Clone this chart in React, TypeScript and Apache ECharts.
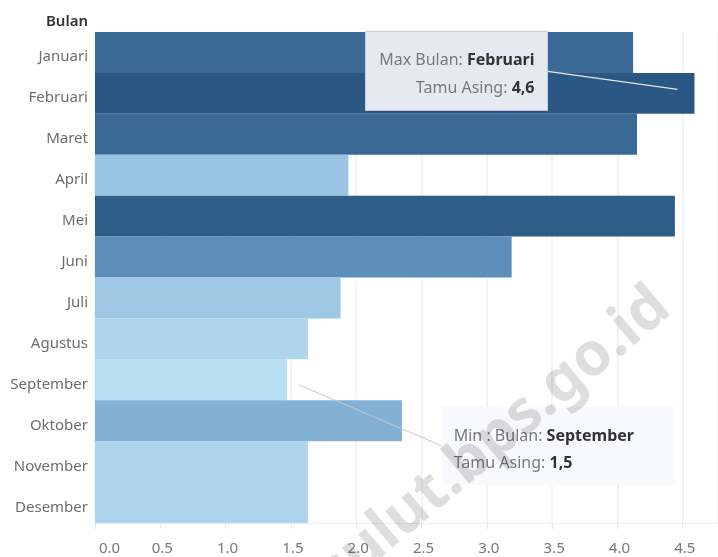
import React, { useEffect, useRef } from "react";
import * as echarts from "echarts";

const categories = [
  "Januari", "Februari", "Maret", "April", "Mei", "Juni",
  "Juli", "Agustus", "September", "Oktober", "November", "Desember",
];
const values = [4.12, 4.59, 4.15, 1.94, 4.44, 3.19, 1.88, 1.63, 1.47, 2.35, 1.63, 1.63];
const colorStops = ["#b9ddf1", "#86b5d8", "#6394bf", "#4677a5", "#2a5783"];
const axisMin = 0;
const axisMax = 4.77;
const axisInterval = 0.5;
const axisTitle = "Bulan";
const valueName = "Tamu Asing";
const watermark = "sulut.bps.go.id";

const FONT = "'Noto Sans', sans-serif";

const fmt = (v: number) => v.toFixed(1).replace(".", ",");

export default function App() {
  const ref = useRef<HTMLDivElement>(null);
  useEffect(() => {
    if (!ref.current) return;
    const chart = echarts.init(ref.current, null, { renderer: "svg" });
    const minV = Math.min(...values);
    const maxV = Math.max(...values);
    const maxIdx = values.indexOf(maxV);
    const minIdx = values.indexOf(minV);
    chart.setOption({
      animation: false,
      grid: { left: 95, right: 0, top: 32, bottom: 34, containLabel: false },
      visualMap: {
        show: false,
        type: "continuous",
        dimension: 0,
        min: minV,
        max: maxV,
        inRange: { color: colorStops },
      },
      xAxis: {
        type: "value",
        min: axisMin,
        max: axisMax,
        interval: axisInterval,
        axisLine: { show: true, lineStyle: { color: "#ececec", width: 1 } },
        axisTick: { show: true, length: 6, lineStyle: { color: "#e6e6e6" } },
        splitLine: { show: true, lineStyle: { color: "#efefef", width: 1.5 } },
        axisLabel: {
          color: "#777",
          fontSize: 15,
          fontFamily: FONT,
          margin: 16,
          showMaxLabel: false,
          alignMinLabel: "left",
          padding: [0, 0, 0, 4],
          formatter: (v: number) => v.toFixed(1),
        },
      },
      yAxis: {
        type: "category",
        data: categories,
        inverse: true,
        axisLine: { show: false },
        axisTick: { show: false },
        axisLabel: {
          margin: 7,
          formatter: (v: string) => `{m|${v}}`,
          rich: {
            m: {
              color: "#6d6d6d", fontSize: 15, fontFamily: FONT,
              padding: [6, 0, 0, 0],
            },
          },
        },
      },
      series: [
        {
          type: "bar",
          data: values.map((v, i) => [v, i]),
          encode: { x: 0, y: 1 },
          barCategoryGap: "0%",
          z: 2,
        },
      ],
    });

    const pMax = chart.convertToPixel({ gridIndex: 0 }, [4.46, maxIdx]) as number[];
    const pMin = chart.convertToPixel({ gridIndex: 0 }, [1.56, minIdx]) as number[];
    const a1 = { x: pMax[0], y: pMax[1] - 4 };
    const b1 = { x: a1.x - 312, y: a1.y - 58, w: 182, h: 79 };
    const a2 = { x: pMin[0], y: pMin[1] + 5 };
    const b2 = { x: a2.x + 143, y: a2.y + 22, w: 233, h: 78 };

    const rich = {
      a: { fill: "#7a7a7a", fontSize: 16, fontFamily: FONT },
      b: { fill: "#333", fontSize: 16, fontFamily: FONT, fontWeight: "bold" },
    };

    chart.setOption({
      graphic: [
        {
          type: "text",
          style: {
            x: 88, y: 20, text: axisTitle, align: "right", verticalAlign: "middle",
            fill: "#333", fontSize: 15, fontWeight: 600, fontFamily: FONT,
          },
        },
        {
          type: "line", z: 10,
          shape: { x1: b1.x + b1.w, y1: b1.y + 40, x2: a1.x, y2: a1.y },
          style: { stroke: "#e4e4e4", lineWidth: 1.5 },
        },
        {
          type: "rect", z: 10,
          shape: { x: b1.x, y: b1.y, width: b1.w, height: b1.h },
          style: { fill: "#e6e9f0", stroke: "#c9cdd6", lineWidth: 1 },
        },
        {
          type: "text", z: 11,
          style: {
            x: b1.x + 169, y: b1.y + 28, align: "right", verticalAlign: "middle",
            text: `{a|Max ${axisTitle}: }{b|${categories[maxIdx]}}`, rich,
          },
        },
        {
          type: "text", z: 11,
          style: {
            x: b1.x + 169, y: b1.y + 56, align: "right", verticalAlign: "middle",
            text: `{a|${valueName}: }{b|${fmt(maxV)}}`, rich,
          },
        },
        {
          type: "line", z: 10,
          shape: { x1: a2.x, y1: a2.y, x2: b2.x, y2: b2.y + 39 },
          style: { stroke: "#c8c8c8", lineWidth: 1 },
        },
        {
          type: "rect", z: 10,
          shape: { x: b2.x, y: b2.y, width: b2.w, height: b2.h },
          style: { fill: "#f8f9fc" },
        },
        {
          type: "text", z: 11,
          style: {
            x: b2.x + 12, y: b2.y + 28, align: "left", verticalAlign: "middle",
            text: `{a|Min : ${axisTitle}: }{b|${categories[minIdx]}}`, rich,
          },
        },
        {
          type: "text", z: 11,
          style: {
            x: b2.x + 12, y: b2.y + 55, align: "left", verticalAlign: "middle",
            text: `{a|${valueName}: }{b|${fmt(minV)}}`, rich,
          },
        },
        {
          type: "text", z: 20,
          x: 490, y: 436, rotation: (40 * Math.PI) / 180,
          style: {
            x: 0, y: 0, text: watermark, align: "center", verticalAlign: "middle",
            fill: "rgba(0,0,0,0.13)", fontSize: 60, fontWeight: "bold", fontFamily: FONT,
          },
        },
      ],
    });
    return () => chart.dispose();
  }, []);
  return (
    <div
      ref={ref}
      style={{ position: "fixed", left: 0, top: 0, width: 718, height: 557 }}
    />
  );
}
